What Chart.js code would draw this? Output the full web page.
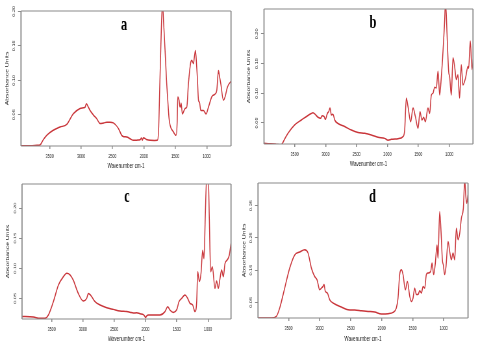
<!DOCTYPE html>
<html>
<head>
<meta charset="utf-8">
<script src="https://cdn.jsdelivr.net/npm/chart.js@4.4.1/dist/chart.umd.min.js"></script>
<style>
  html, body { margin: 0; padding: 0; background: #fff; }
  #wrap { position: relative; width: 478px; height: 353px; overflow: hidden; }
  #wrap canvas { position: absolute; transform-origin: 0 0; }
</style>
</head>
<body>
<div id="wrap">
  <canvas id="panelA"></canvas>
  <canvas id="panelB"></canvas>
  <canvas id="panelC"></canvas>
  <canvas id="panelD"></canvas>
</div>
<script>
// --- spectra (wavenumber cm-1 / absorbance) ---
const wavenumberA = [3990, 3800, 3700, 3654, 3600, 3548, 3450, 3335, 3229, 3123, 3017, 2964, 2935, 2916, 2890, 2857, 2800, 2751, 2697, 2640,
  2591, 2540, 2486, 2406, 2353, 2320, 2273, 2220, 2167, 2110, 2061, 2040, 2025, 2008, 1960, 1902, 1830, 1785, 1765, 1753,
  1730, 1705, 1690, 1663, 1640, 1620, 1600, 1583, 1530, 1488, 1470, 1461, 1440, 1430, 1419, 1408, 1387, 1344, 1317, 1291,
  1254, 1238, 1211, 1195, 1179, 1160, 1147, 1131, 1115, 1094, 1052, 1010, 972, 919, 866, 840, 813, 795, 776, 734,
  707, 670, 617, 600];
const absorbanceA = [0.005, 0.005, 0.0055, 0.006, 0.014, 0.020, 0.027, 0.032, 0.036, 0.0515, 0.059, 0.060, 0.061, 0.066, 0.062, 0.056, 0.049, 0.044, 0.037, 0.038,
  0.039, 0.039, 0.038, 0.030, 0.020, 0.018, 0.0176, 0.015, 0.0127, 0.013, 0.0137, 0.016, 0.013, 0.0166, 0.014, 0.0127, 0.0125, 0.0127, 0.030, 0.071,
  0.150, 0.212, 0.190, 0.143, 0.100, 0.071, 0.045, 0.0345, 0.025, 0.020, 0.040, 0.0757, 0.071, 0.063, 0.061, 0.067, 0.051, 0.059, 0.061, 0.095,
  0.126, 0.129, 0.124, 0.135, 0.143, 0.120, 0.100, 0.071, 0.068, 0.056, 0.056, 0.051, 0.061, 0.076, 0.080, 0.085, 0.114, 0.105, 0.095, 0.071,
  0.076, 0.090, 0.098, 0.099];

const wavenumberB = [4000, 3900, 3800, 3716, 3672, 3608, 3500, 3392, 3231, 3204, 3123, 3080, 3058, 3026, 3004, 2972, 2950, 2929, 2907, 2880,
  2853, 2800, 2692, 2584, 2476, 2369, 2261, 2153, 2045, 1990, 1937, 1830, 1749, 1722, 1695, 1668, 1625, 1587, 1549, 1506,
  1474, 1442, 1415, 1388, 1345, 1318, 1291, 1264, 1237, 1210, 1183, 1156, 1129, 1102, 1075, 1065, 1050, 1038, 1011, 995,
  968, 941, 914, 887, 861, 834, 807, 780, 737, 699, 688, 661, 634, 612];
const absorbanceB = [0.0156, 0.015, 0.014, 0.0133, 0.021, 0.0325, 0.0466, 0.055, 0.066, 0.067, 0.0596, 0.058, 0.062, 0.061, 0.056, 0.066, 0.069, 0.075, 0.0635, 0.0647,
  0.055, 0.049, 0.044, 0.038, 0.034, 0.0325, 0.0297, 0.0257, 0.024, 0.021, 0.0224, 0.0235, 0.027, 0.038, 0.0917, 0.0776, 0.052, 0.075, 0.0607, 0.041,
  0.069, 0.055, 0.0596, 0.052, 0.075, 0.066, 0.097, 0.100, 0.110, 0.109, 0.137, 0.097, 0.128, 0.171, 0.224, 0.250, 0.235, 0.202, 0.137, 0.128,
  0.097, 0.160, 0.145, 0.123, 0.131, 0.092, 0.148, 0.114, 0.126, 0.145, 0.142, 0.188, 0.140, 0.159];

const wavenumberC = [3990, 3793, 3687, 3607, 3553, 3473, 3393, 3313, 3260, 3207, 3154, 3074, 2994, 2940, 2914, 2876, 2807, 2727, 2620, 2514,
  2407, 2301, 2250, 2194, 2140, 2088, 2034, 2010, 1997, 1980, 1954, 1874, 1768, 1688, 1645, 1608, 1554, 1501, 1464, 1421,
  1368, 1330, 1288, 1245, 1208, 1181, 1165, 1138, 1112, 1085, 1064, 1043, 1022, 995, 979, 958, 931, 888, 862, 835,
  808, 782, 755, 728, 691, 659, 633];
const absorbanceC = [0.020, 0.019, 0.0168, 0.0168, 0.0223, 0.0445, 0.072, 0.086, 0.0916, 0.089, 0.080, 0.058, 0.0456, 0.050, 0.058, 0.055, 0.0445, 0.039, 0.0345, 0.0317,
  0.029, 0.028, 0.027, 0.0256, 0.026, 0.0245, 0.023, 0.020, 0.0179, 0.021, 0.0223, 0.0223, 0.0223, 0.028, 0.036, 0.0306, 0.0267, 0.031, 0.0445, 0.050,
  0.0555, 0.051, 0.0417, 0.039, 0.028, 0.0445, 0.094, 0.078, 0.0916, 0.130, 0.116, 0.188, 0.250, 0.250, 0.183, 0.094, 0.1026, 0.0666, 0.079, 0.0666,
  0.083, 0.097, 0.086, 0.108, 0.114, 0.122, 0.141];

const wavenumberD = [3995, 3780, 3699, 3645, 3565, 3484, 3403, 3323, 3242, 3188, 3134, 3081, 3043, 3000, 2973, 2946, 2930, 2909, 2876, 2839,
  2758, 2651, 2543, 2436, 2328, 2220, 2113, 2005, 1898, 1817, 1764, 1737, 1710, 1683, 1656, 1618, 1586, 1548, 1522, 1495,
  1468, 1441, 1414, 1387, 1360, 1333, 1307, 1280, 1253, 1210, 1188, 1161, 1135, 1108, 1092, 1065, 1038, 1022, 1006, 984,
  963, 930, 904, 877, 850, 823, 796, 769, 742, 715, 683, 661, 645, 629, 608];
const absorbanceD = [0.0015, 0.0015, 0.0067, 0.0325, 0.094, 0.156, 0.197, 0.206, 0.213, 0.203, 0.156, 0.130, 0.120, 0.089, 0.094, 0.0995, 0.105, 0.084, 0.079, 0.058,
  0.045, 0.0356, 0.027, 0.026, 0.024, 0.022, 0.020, 0.014, 0.015, 0.019, 0.0325, 0.063, 0.136, 0.151, 0.136, 0.089, 0.115, 0.0686, 0.053, 0.063,
  0.094, 0.074, 0.074, 0.086, 0.079, 0.0995, 0.094, 0.136, 0.141, 0.146, 0.172, 0.136, 0.172, 0.228, 0.187, 0.331, 0.249, 0.182, 0.166, 0.136,
  0.161, 0.239, 0.208, 0.182, 0.203, 0.182, 0.280, 0.244, 0.264, 0.311, 0.342, 0.430, 0.383, 0.357, 0.383];

// --- tick labels ---
const xTickValues = [3500, 3000, 2500, 2000, 1500, 1000];
const yTicksABC = [0.05, 0.10, 0.15, 0.20];
const yTicksD = [0.05, 0.15, 0.25, 0.35];

// the source picture is squeezed sideways, so each canvas is drawn wider and scaled down
const SX = 0.65;

// layout in page pixels; area = plot box [left, top, right, bottom] inside the panel
const panels = [
  { id: 'panelA', letter: 'a', left: 0, top: 0, w: 239, h: 176, area: [21, 11, 231, 146],
    letterPos: [124, 29.5], yTitleX: 7, xTitleGap: 10.3,
    xRange: [613, 3957], yRange: [0.0045, 0.2005], yTicks: yTicksABC, wn: wavenumberA, ab: absorbanceA },
  { id: 'panelB', letter: 'b', left: 239, top: 0, w: 239, h: 176, area: [25, 9, 234, 144],
    letterPos: [134, 28], yTitleX: 10, xTitleGap: 11.7,
    xRange: [617, 3996], yRange: [0.0145, 0.242], yTicks: yTicksABC, wn: wavenumberB, ab: absorbanceB },
  { id: 'panelC', letter: 'c', left: 0, top: 176, w: 239, h: 177, area: [22, 8, 231, 143],
    letterPos: [127, 26], yTitleX: 8, xTitleGap: 14,
    xRange: [632, 3975], yRange: [0.0157, 0.24], yTicks: yTicksABC, wn: wavenumberC, ab: absorbanceC },
  { id: 'panelD', letter: 'd', left: 239, top: 176, w: 239, h: 177, area: [19, 7, 229, 142],
    letterPos: [133.5, 25.5], yTitleX: 5, xTitleGap: 14,
    xRange: [608, 3995], yRange: [0.0015, 0.42], yTicks: yTicksD, wn: wavenumberD, ab: absorbanceD }
];

const AXIS_GREY = '#8a8a8a';
const TEXT_COL = '#222';
const TITLE_FONT = { family: '"Liberation Sans", Arial, sans-serif', size: 6.8 };
const TICK_FONT = { family: '"Liberation Sans", Arial, sans-serif', size: 5.6 };

// box around the plot plus the bold panel letter
const framePlugin = {
  id: 'frame',
  afterDraw(chart, args, opts) {
    const { ctx, chartArea: a } = chart;
    ctx.save();
    ctx.strokeStyle = AXIS_GREY;
    ctx.lineWidth = 1.2;
    ctx.beginPath();
    ctx.moveTo(a.left, a.top); ctx.lineTo(a.right, a.top);
    ctx.moveTo(a.left, a.bottom); ctx.lineTo(a.right, a.bottom);
    ctx.stroke();
    ctx.lineWidth = 1.8;
    ctx.beginPath();
    ctx.moveTo(a.left, a.top); ctx.lineTo(a.left, a.bottom);
    ctx.moveTo(a.right, a.top); ctx.lineTo(a.right, a.bottom);
    ctx.stroke();
    ctx.font = 'bold 19px "Liberation Serif", "Times New Roman", serif';
    ctx.fillStyle = '#000';
    ctx.textAlign = 'center';
    ctx.textBaseline = 'alphabetic';
    ctx.fillText(opts.letter, opts.x, opts.y);
    ctx.restore();
  }
};

panels.forEach(p => {
  const cv = document.getElementById(p.id);
  const W = Math.round(p.w / SX);
  const sx = p.w / W;
  cv.width = W;
  cv.height = p.h;
  cv.style.left = p.left + 'px';
  cv.style.top = p.top + 'px';
  cv.style.transform = 'scaleX(' + sx + ')';

  const [L, T, R, B] = p.area;
  const halfLine = TITLE_FONT.size * 1.2 / 2;

  new Chart(cv, {
    type: 'line',
    data: {
      datasets: [{
        data: p.wn.map((w, i) => ({ x: w, y: p.ab[i] })),
        borderColor: '#c9363b',
        borderWidth: 1.5,
        pointRadius: 0,
        cubicInterpolationMode: 'monotone',
        clip: 0
      }]
    },
    options: {
      responsive: false,
      animation: false,
      events: [],
      layout: { padding: { left: 0, top: T, right: W - R / sx, bottom: 0 } },
      scales: {
        x: {
          type: 'linear',
          reverse: true,
          min: p.xRange[0],
          max: p.xRange[1],
          afterFit: s => { s.height = p.h - B; },
          afterBuildTicks: s => { s.ticks = xTickValues.map(v => ({ value: v })); },
          ticks: {
            autoSkip: false, minRotation: 0, maxRotation: 0, padding: 4,
            color: TEXT_COL, font: TICK_FONT,
            callback: v => String(v)
          },
          grid: { drawOnChartArea: false, drawTicks: true, tickLength: 3, color: AXIS_GREY, lineWidth: 1.5 },
          border: { display: false },
          title: {
            display: true, text: 'Wavenumber cm-1', color: TEXT_COL, font: TITLE_FONT,
            padding: { top: 0, bottom: p.xTitleGap - halfLine }
          }
        },
        y: {
          type: 'linear',
          min: p.yRange[0],
          max: p.yRange[1],
          afterFit: s => { s.width = L / sx; },
          afterBuildTicks: s => { s.ticks = p.yTicks.map(v => ({ value: v })); },
          ticks: {
            autoSkip: false, minRotation: 90, maxRotation: 90, crossAlign: 'center', padding: 0.6,
            color: TEXT_COL, font: TICK_FONT,
            callback: v => v.toFixed(2)
          },
          grid: { drawOnChartArea: false, drawTicks: true, tickLength: 4.6, color: AXIS_GREY, lineWidth: 1 },
          border: { display: false },
          title: {
            display: true, text: 'Absorbance Units', color: TEXT_COL, font: TITLE_FONT,
            padding: { top: p.yTitleX / sx - halfLine, bottom: 0 }
          }
        }
      },
      plugins: {
        legend: { display: false },
        tooltip: { enabled: false },
        frame: { letter: p.letter, x: p.letterPos[0] / sx, y: p.letterPos[1] }
      }
    },
    plugins: [framePlugin]
  });
});
</script>
</body>
</html>
